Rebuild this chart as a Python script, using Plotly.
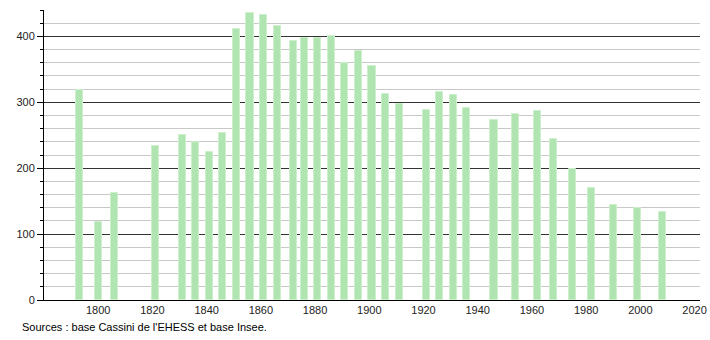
import plotly.graph_objects as go

years = [1793, 1800, 1806, 1821, 1831, 1836, 1841, 1846, 1851, 1856, 1861, 1866,
         1872, 1876, 1881, 1886, 1891, 1896, 1901, 1906, 1911, 1921, 1926, 1931,
         1936, 1946, 1954, 1962, 1968, 1975, 1982, 1990, 1999, 2008]
population = [319, 118, 163, 234, 250, 239, 225, 254, 411, 436, 432, 416,
              393, 397, 397, 401, 359, 378, 355, 312, 298, 288, 315, 311,
              292, 273, 282, 287, 244, 199, 170, 144, 139, 133]
x_ticks = [1800, 1820, 1840, 1860, 1880, 1900, 1920, 1940, 1960, 1980, 2000, 2020]
y_ticks = [0, 100, 200, 300, 400]
source_text = "Sources : base Cassini de l'EHESS et base Insee."

fig = go.Figure()
fig.add_trace(go.Bar(
    x=years, y=population, width=2.6,
    marker=dict(color="rgb(176,228,176)", line=dict(color="rgb(204,240,204)", width=1)),
    hoverinfo="x+y",
))

font = dict(family="Liberation Sans, Arial, sans-serif", size=11, color="#222")

fig.update_layout(
    width=710, height=340,
    margin=dict(l=44, r=10, t=10, b=40),
    paper_bgcolor="white", plot_bgcolor="white",
    showlegend=False, font=font, bargap=0,
    xaxis=dict(
        range=[1780, 2022], tickvals=x_ticks, ticktext=[str(t) for t in x_ticks],
        showgrid=False, zeroline=False, showline=True, linecolor="black", linewidth=1,
        ticks="", tickfont=font, automargin=False,
    ),
    yaxis=dict(
        range=[0, 440], tickvals=y_ticks, showgrid=True, gridcolor="#333", gridwidth=1,
        zeroline=False, showline=True, linecolor="black", linewidth=1,
        ticks="outside", ticklen=6, tickcolor="black", tickfont=font, automargin=False,
        minor=dict(dtick=20, showgrid=True, gridcolor="#c8c8c8", gridwidth=1,
                   ticks="outside", ticklen=3, tickcolor="black"),
    ),
    annotations=[dict(
        text=source_text, xref="paper", yref="paper", x=-0.037, y=-0.093,
        xanchor="left", yanchor="middle", showarrow=False,
        font=dict(family=font["family"], size=11, color="black"),
    )],
)

fig.write_html("out.html")
